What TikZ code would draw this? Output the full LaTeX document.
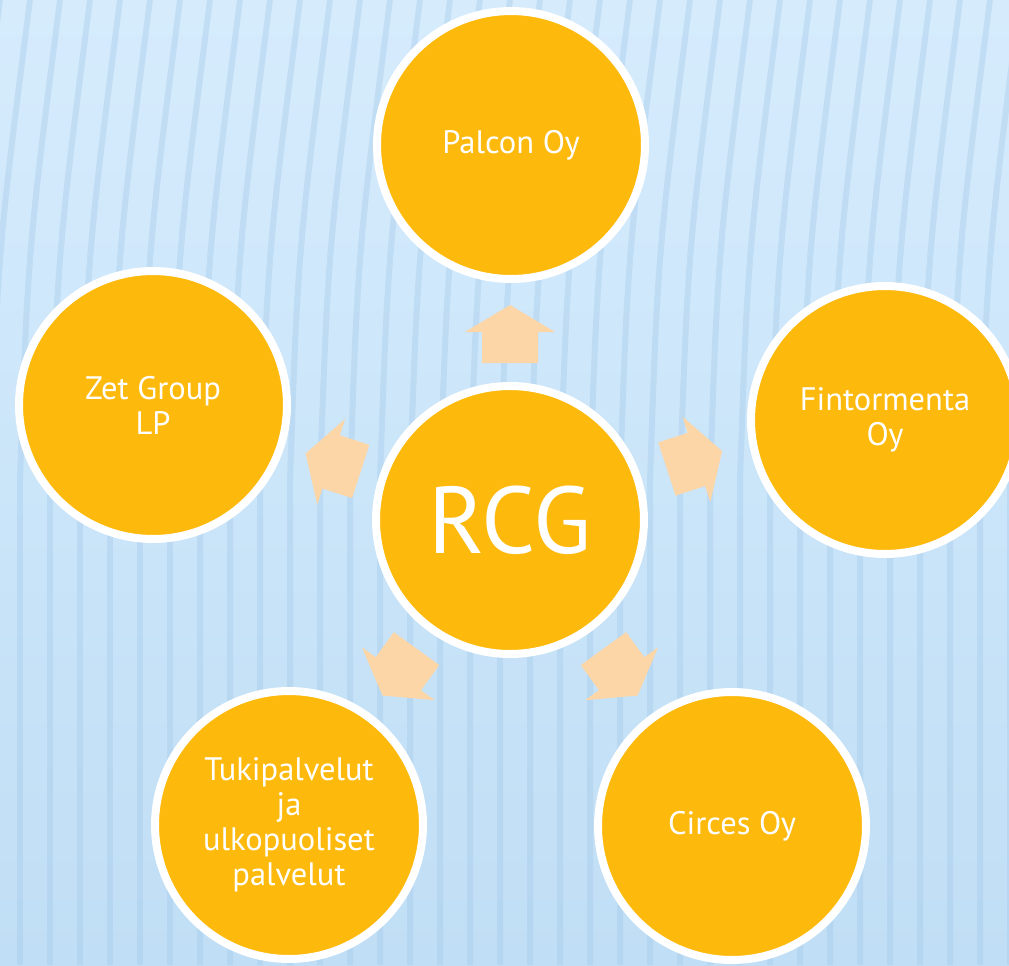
\documentclass[tikz,border=0pt]{standalone}
\usepackage{fontspec}
\setmainfont{PT Sans}
\usetikzlibrary{positioning}
\definecolor{ballfill}{RGB}{253,185,12}
\definecolor{arrowfill}{RGB}{252,214,167}
\definecolor{skytop}{RGB}{214,236,253}
\definecolor{skybottom}{RGB}{192,222,245}
\definecolor{stripe}{RGB}{165,202,234}
\tikzset{
  ball/.style={circle, draw=white, line width=0.16cm, fill=ballfill,
               minimum size=5.36cm, inner sep=0pt, align=center,
               text=white, font=\fontsize{18.5}{20}\selectfont},
  hub/.style={ball, font=\fontsize{54}{60}\selectfont},
  pics/blockarrow/.style={code={
    \fill[arrowfill] (-29,-28) -- (2,-28) -- (2,-45) -- (29,0)
                     -- (2,45) -- (2,28) -- (-29,28) -- cycle;}}
}

\begin{document}
\begin{tikzpicture}[x=0.02cm, y=0.02cm]
  \useasboundingbox (0,0) rectangle (1009,-965);
  % backdrop
  \shade[top color=skytop, bottom color=skybottom] (0,0) rectangle (1009,-965);
  \begin{scope}
    \clip (0,0) rectangle (1009,-965);
    \foreach \x in {-40,-10,...,1040}
      \draw[stripe, line width=0.12cm, opacity=0.4]
        (\x+40,0) .. controls (\x+8,-250) .. (\x,-480) -- (\x,-965);
  \end{scope}

  % circles
  \node[hub] (rcg) at (510,-520) {RCG};
  \node[ball] (palcon) at (511,-145) {Palcon Oy};
  \node[ball] (fintor) at (885,-420) {Fintormenta\\Oy};
  \node[ball] (circes) at (732,-826) {Circes Oy};
  \node[ball] (tuki) at (289,-825) {Tukipalvelut\\ja\\ulkopuoliset\\palvelut};
  \node[ball] (zet) at (153,-405) {Zet Group\\LP};

  % arrows out of the hub
  \foreach \a/\d in {90/186, 18/194, 162/186, -54/188, -126/188}
    \path (rcg.center) ++(\a:\d) pic[rotate=\a] {blockarrow};
\end{tikzpicture}
\end{document}
